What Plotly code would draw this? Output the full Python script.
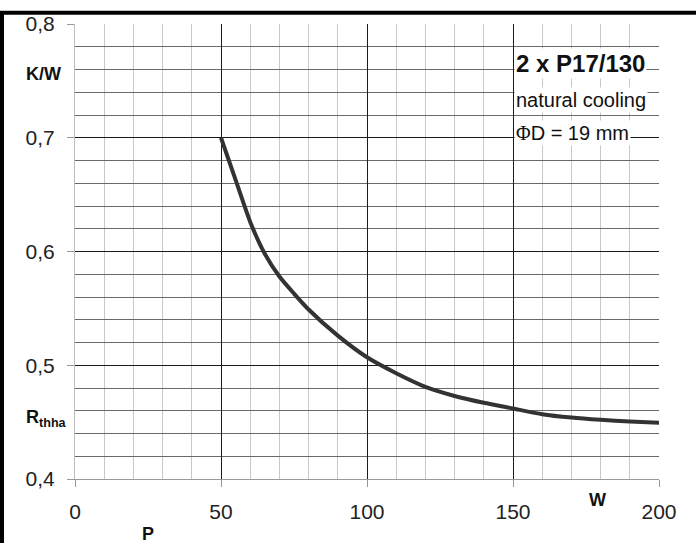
import plotly.graph_objects as go

# ---- data ----
power_w = [50, 55, 60, 65, 70, 75, 80, 90, 100, 110, 120, 130, 140, 150, 160, 170, 180, 190, 200]
rth_kw = [0.700, 0.663, 0.626, 0.598, 0.578, 0.563, 0.549, 0.526, 0.507, 0.493, 0.481, 0.473,
          0.467, 0.462, 0.457, 0.454, 0.452, 0.4505, 0.4495]

x_ticks = [0, 50, 100, 150, 200]
y_ticks = [0.4, 0.5, 0.6, 0.7, 0.8]
y_tick_labels = ["0,4", "0,5", "0,6", "0,7", "0,8"]

title_lines = ["<b>2 x P17/130</b>", "natural cooling",
               "<span style='font-family:Liberation Serif'>Φ</span>D = 19 mm"]

W, H = 696, 544
L, R, T, B = 75, 37, 17, 65
FONT = "Liberation Sans, Arial, sans-serif"

fig = go.Figure()
fig.add_trace(go.Scatter(
    x=power_w, y=rth_kw, mode="lines",
    line=dict(color="#333333", width=4, shape="spline", smoothing=0.6),
    showlegend=False, hoverinfo="skip",
))

fig.update_layout(
    width=W, height=H,
    margin=dict(l=L, r=R, t=T, b=B, pad=0),
    paper_bgcolor="white", plot_bgcolor="white",
    font=dict(family=FONT, size=18, color="#222222"),
    xaxis=dict(
        range=[0, 200], tickmode="array", tickvals=x_ticks,
        showgrid=True, gridcolor="#1a1a1a", gridwidth=1.3,
        minor=dict(dtick=10, tick0=0, showgrid=True, gridcolor="#c8c8c8", gridwidth=1, ticks=""),
        ticks="outside", ticklen=7, tickcolor="#999999", tickwidth=1,
        ticklabelstandoff=7,
        showline=True, linecolor="#9a9a9a", linewidth=1, mirror=False,
        zeroline=False, fixedrange=True,
        tickfont=dict(size=21),
    ),
    yaxis=dict(
        range=[0.4, 0.8], tickmode="array", tickvals=y_ticks, ticktext=y_tick_labels,
        showgrid=True, gridcolor="#1a1a1a", gridwidth=1.3,
        minor=dict(dtick=0.02, tick0=0.4, showgrid=True, gridcolor="#6a6a6a", gridwidth=1, ticks=""),
        ticks="outside", ticklen=7, tickcolor="#999999", tickwidth=1,
        ticklabelstandoff=8,
        showline=True, linecolor="#bdbdbd", linewidth=1, mirror=False,
        zeroline=False, fixedrange=True,
        tickfont=dict(size=21),
    ),
)

# info text block (upper right), left-aligned
ann_y = [0.7655, 0.733, 0.7045]
ann_size = [24, 20, 20]
for txt, yy, fs in zip(title_lines, ann_y, ann_size):
    fig.add_annotation(x=150.4, y=yy, xref="x", yref="y", text=txt, showarrow=False,
                       xanchor="left", yanchor="middle", bgcolor="white", borderpad=1,
                       font=dict(family=FONT, size=fs, color="#111111"))

# axis unit / symbol labels
def px_to_paper_x(px):
    return (px - L) / (W - L - R)

def px_to_paper_y(py):
    return (H - B - py) / (H - T - B)

labels = [
    ("<b>K/W</b>", 24, 68, "left", 18),
    ("<b>R<sub>thha</sub></b>", 24, 418, "left", 18),
    ("<b>W</b>", 597, 500, "center", 18),
    ("<b>P</b>", 148, 535, "center", 18),
]
for txt, px, py, anc, fs in labels:
    fig.add_annotation(x=px_to_paper_x(px), y=px_to_paper_y(py), xref="paper", yref="paper",
                       text=txt, showarrow=False, xanchor=anc, yanchor="middle",
                       font=dict(family=FONT, size=fs, color="#111111"))

# black frame (top and left edges of the picture)
fig.add_shape(type="line", xref="paper", yref="paper",
              x0=px_to_paper_x(0), x1=px_to_paper_x(W), y0=px_to_paper_y(5.5), y1=px_to_paper_y(5.5),
              line=dict(color="black", width=4))
fig.add_shape(type="line", xref="paper", yref="paper",
              x0=px_to_paper_x(2), x1=px_to_paper_x(2), y0=px_to_paper_y(4), y1=px_to_paper_y(H),
              line=dict(color="black", width=4))

# remove the browser's default page margin so the figure sits at the window origin
fig.write_html("out.html", config={"displayModeBar": False},
               post_script="document.body.style.margin='0';")
